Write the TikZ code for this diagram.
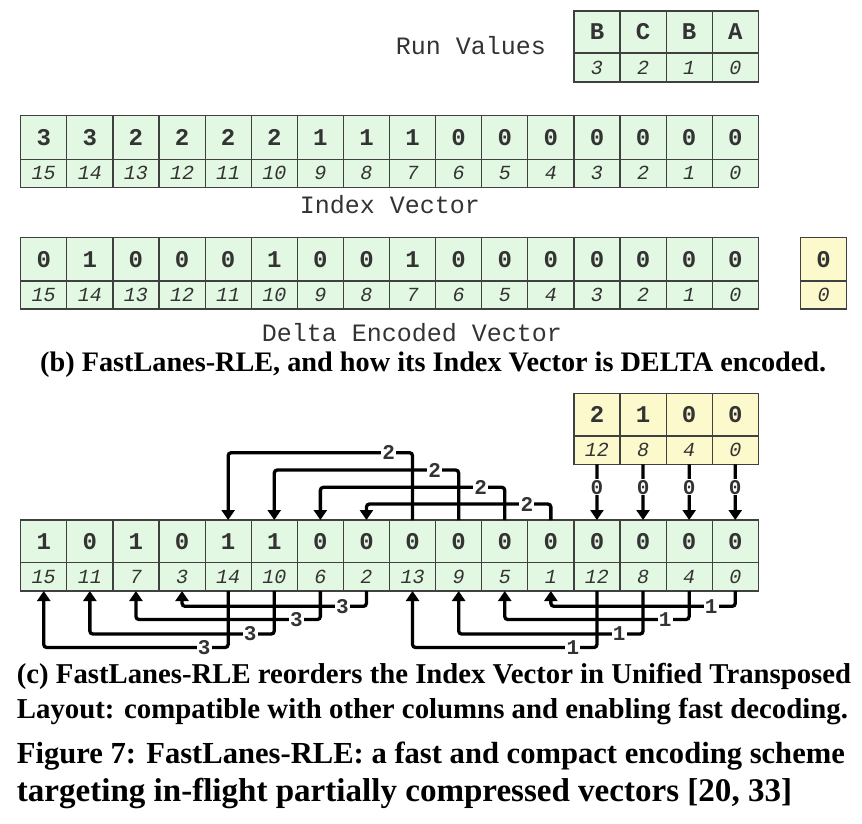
\documentclass[tikz,border=0pt]{standalone}
\usepackage{graphicx}
\usepackage{fontspec}
\usetikzlibrary{arrows.meta,calc}
\newfontfamily\monofont{Liberation Mono}
\newfontfamily\capfont{Liberation Serif}
\definecolor{cellgreen}{HTML}{E3F8E3}
\definecolor{cellyellow}{HTML}{FCFACC}
\definecolor{cellborder}{HTML}{404040}
\definecolor{txt}{HTML}{333333}
\newcommand{\valfont}{\monofont\bfseries\fontsize{24}{24}\selectfont}
\newcommand{\idxfont}{\monofont\itshape\fontsize{20}{20}\selectfont}
\newcommand{\lblfont}{\monofont\bfseries\fontsize{21}{21}\selectfont}
\newcommand{\titlefont}{\monofont\fontsize{25}{25}\selectfont}
\newcommand{\cellrow}[8]{%
  \foreach \v [count=\k from 0] in {#6} {
    \node[cellbox, fill=#8, minimum height={(#4-#3)*1pt}, font=\valfont] (#1v\k) at ({#2+46.1*(\k+0.5)}, {(#3+#4)/2}) {\v};
  }
  \foreach \v [count=\k from 0] in {#7} {
    \node[cellbox, fill=#8, minimum height={(#5-#4)*1pt}, font=\idxfont] (#1i\k) at ({#2+46.1*(\k+0.5)}, {(#4+#5)/2}) {\v};
  }
}
\tikzset{
  cellbox/.style={draw=cellborder, line width=1.2pt, minimum width=46.1pt, inner sep=0pt, outer sep=0pt, text=txt},
  conn/.style={line width=3.3pt, rounded corners=3pt, -{Triangle[width=13pt,length=10pt]}},
  lbl/.style={fill=white, inner sep=1.2pt, font=\lblfont, text=txt},
  vtitle/.style={font=\titlefont, text=txt},
  capt/.style={anchor=base west, inner sep=0pt, font=\capfont\bfseries}
}
\begin{document}
\begin{tikzpicture}[x=1pt, y=-1pt]
\useasboundingbox (0,0) rectangle (862,823);

% (b) part
\node[vtitle] (rvtitle) at (471,46) {Run Values};
\cellrow{rv}{573.9}{11}{53}{82}{B,C,B,A}{3,2,1,0}{cellgreen}

\cellrow{iv}{20.7}{115.7}{159.3}{187.3}{3,3,2,2,2,2,1,1,1,0,0,0,0,0,0,0}{15,14,13,12,11,10,9,8,7,6,5,4,3,2,1,0}{cellgreen}
\node[vtitle] (ivtitle) at (390,205) {Index Vector};

\cellrow{dv}{20.7}{237.3}{281}{309}{0,1,0,0,0,1,0,0,1,0,0,0,0,0,0,0}{15,14,13,12,11,10,9,8,7,6,5,4,3,2,1,0}{cellgreen}
\cellrow{dx}{800.6}{237.3}{281}{309}{0}{0}{cellyellow}
\node[vtitle] (dvtitle) at (412,333) {Delta Encoded Vector};

\node[capt] (capb) at (40,371.7) {\resizebox{786pt}{!}{(b) FastLanes-RLE, and how its Index Vector is DELTA encoded.}};

% (c) part
\cellrow{yt}{573.9}{393.3}{436}{464.3}{2,1,0,0}{12,8,4,0}{cellyellow}
\cellrow{cv}{20.7}{520}{562.3}{591}{1,0,1,0,1,1,0,0,0,0,0,0,0,0,0,0}{15,11,7,3,14,10,6,2,13,9,5,1,12,8,4,0}{cellgreen}

% levels
\coordinate (t1) at (0,452.7);
\coordinate (t2) at (0,470);
\coordinate (t3) at (0,487.3);
\coordinate (t4) at (0,504);
\coordinate (b1) at (0,606.3);
\coordinate (b2) at (0,619.5);
\coordinate (b3) at (0,634);
\coordinate (b4) at (0,647.5);

% top connectors (delta 2)
\draw[conn] (cvv8.north) |- (t1 -| cvv4.north) -- (cvv4.north);
\draw[conn] (cvv9.north) |- (t2 -| cvv5.north) -- (cvv5.north);
\draw[conn] (cvv10.north) |- (t3 -| cvv6.north) -- (cvv6.north);
\draw[conn] (cvv11.north) |- (t4 -| cvv7.north) -- (cvv7.north);

% from yellow base values (delta 0)
\foreach \k [evaluate=\k as \j using int(\k+12)] in {0,1,2,3} {
  \draw[conn] (yti\k.south) -- (cvv\j.north);
  \node[lbl] (zl\k) at ($(yti\k.south)!0.41!(cvv\j.north)$) {0};
}

% bottom connectors (delta 3)
\draw[conn] (cvi7.south) |- (b1 -| cvi3.south) -- (cvi3.south);
\draw[conn] (cvi6.south) |- (b2 -| cvi2.south) -- (cvi2.south);
\draw[conn] (cvi5.south) |- (b3 -| cvi1.south) -- (cvi1.south);
\draw[conn] (cvi4.south) |- (b4 -| cvi0.south) -- (cvi0.south);
% bottom connectors (delta 1)
\draw[conn] (cvi15.south) |- (b1 -| cvi11.south) -- (cvi11.south);
\draw[conn] (cvi14.south) |- (b2 -| cvi10.south) -- (cvi10.south);
\draw[conn] (cvi13.south) |- (b3 -| cvi9.south) -- (cvi9.south);
\draw[conn] (cvi12.south) |- (b4 -| cvi8.south) -- (cvi8.south);

% labels
\node[lbl] (l2a) at ($(cvv8.north |- t1)+(-24,0)$) {2};
\node[lbl] (l2b) at ($(cvv9.north |- t2)+(-24,0)$) {2};
\node[lbl] (l2c) at ($(cvv10.north |- t3)+(-24,0)$) {2};
\node[lbl] (l2d) at ($(cvv11.north |- t4)+(-24,0)$) {2};
\node[lbl] (l3a) at ($(cvi7.south |- b1)+(-24,0)$) {3};
\node[lbl] (l3b) at ($(cvi6.south |- b2)+(-24,0)$) {3};
\node[lbl] (l3c) at ($(cvi5.south |- b3)+(-24,0)$) {3};
\node[lbl] (l3d) at ($(cvi4.south |- b4)+(-24,0)$) {3};
\node[lbl] (l1a) at ($(cvi15.south |- b1)+(-24,0)$) {1};
\node[lbl] (l1b) at ($(cvi14.south |- b2)+(-24,0)$) {1};
\node[lbl] (l1c) at ($(cvi13.south |- b3)+(-24,0)$) {1};
\node[lbl] (l1d) at ($(cvi12.south |- b4)+(-24,0)$) {1};

% captions
\node[capt] (capc1) at (16.7,683.3) {\resizebox{834pt}{!}{(c) FastLanes-RLE reorders the Index Vector in Unified Transposed}};
\node[capt] (capc2) at (16.7,718.3) {\resizebox{831pt}{!}{Layout: compatible with other columns and enabling fast decoding.}};
\node[capt] (capf1) at (16.7,763.3) {\resizebox{828pt}{!}{Figure 7: FastLanes-RLE: a fast and compact encoding scheme}};
\node[capt] (capf2) at (16.7,801.7) {\resizebox{775pt}{!}{targeting in-flight partially compressed vectors [20, 33]}};
\end{tikzpicture}
\end{document}
